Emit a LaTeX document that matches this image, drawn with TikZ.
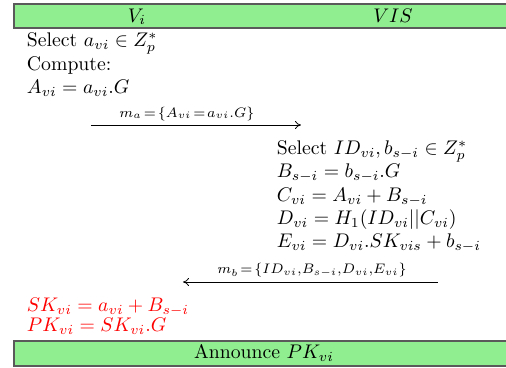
\documentclass[tikz,border=0pt]{standalone}
\usetikzlibrary{arrows.meta}
\definecolor{barGreen}{HTML}{90EE90}
\definecolor{barEdge}{HTML}{5A5A5A}
\begin{document}
\begin{tikzpicture}[x=0.507pt,y=-0.507pt,
  bar/.style={fill=barGreen,draw=barEdge,line width=0.6pt},
  txt/.style={anchor=base west,inner sep=0pt,outer sep=0pt},
  hdr/.style={anchor=base,inner sep=0pt},
  msg/.style={anchor=base,inner sep=0pt,font=\scriptsize},
  flow/.style={-{To[length=3pt,width=4pt]},line width=0.4pt},
  res/.style={txt,text=red}]
\useasboundingbox (0,0) rectangle (506,368);
\clip (0,0) rectangle (506,368);
% header bar
\path[bar] (14,4) rectangle (520,28);
\node[hdr] (hv) at (137,22) {$V_i$};
\node[hdr] (hs) at (393,22) {$VIS$};
% left block
\node[txt] (l1) at (27,47) {Select $a_{vi} \in Z_p^*$};
\node[txt] (l2) at (27,71) {Compute:};
\node[txt] (l3) at (27,94) {$A_{vi} = a_{vi}.G$};
% message a
\coordinate (a1) at (91,125);
\coordinate (a2) at (301,125);
\draw[flow] (a1) -- (a2);
\node[msg] (ma) at (187,117) {$m_a\!=\!\{A_{vi}\!=\!a_{vi}.G\}$};
% right block
\node[txt] (r1) at (277,155) {Select $ID_{vi}, b_{s-i} \in Z_p^*$};
\node[txt] (r2) at (277,178) {$B_{s-i} = b_{s-i}.G$};
\node[txt] (r3) at (277,202) {$C_{vi} = A_{vi} + B_{s-i}$};
\node[txt] (r4) at (277,225) {$D_{vi} = H_1(ID_{vi}||C_{vi})$};
\node[txt] (r5) at (277,248) {$E_{vi} = D_{vi}.SK_{vis} + b_{s-i}$};
% message b
\coordinate (b1) at (438,282);
\coordinate (b2) at (183,282);
\draw[flow] (b1) -- (b2);
\node[msg] (mb) at (312,274) {$m_b\!=\!\{ID_{vi},\!B_{s-i},\!D_{vi},\!E_{vi}\}$};
% results
\node[res] (s1) at (27,312) {$SK_{vi} = a_{vi} + B_{s-i}$};
\node[res] (s2) at (27,332) {$PK_{vi} = SK_{vi}.G$};
% bottom bar
\path[bar] (14,341) rectangle (520,366);
\node[hdr] (ann) at (264,359) {Announce $PK_{vi}$};
\end{tikzpicture}
\end{document}
